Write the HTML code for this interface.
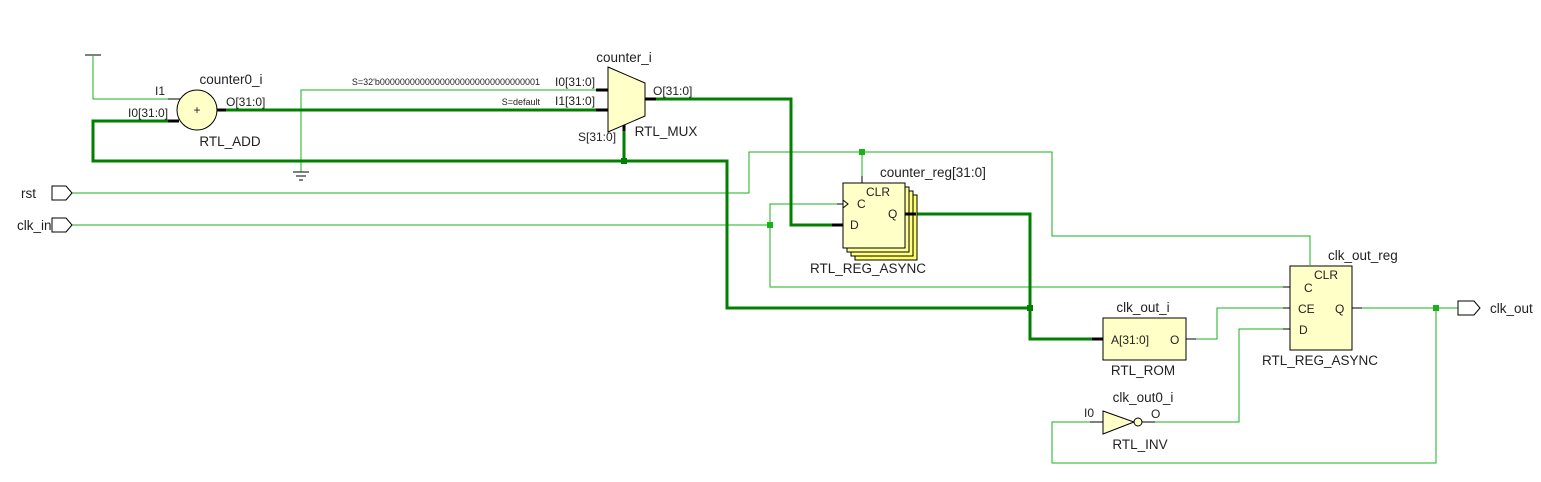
<!DOCTYPE html>
<html><head><meta charset="utf-8"><style>
html,body{margin:0;padding:0;background:#fff;}
svg{display:block;font-family:"Liberation Sans","DejaVu Sans",sans-serif;}
.t{stroke:#19b219;stroke-width:1;fill:none}
.k{stroke:#007f00;stroke-width:3;fill:none}
.p{stroke:#000;stroke-width:1;fill:none}
.pk{stroke:#000;stroke-width:3;fill:none}
text{fill:#222;font-size:12px}
.n{font-size:13.5px}
.s{font-size:9px}
</style></head><body>
<svg width="1541" height="482" viewBox="0 0 1541 482" xmlns="http://www.w3.org/2000/svg">
<!-- thin nets -->
<polyline class="t" points="93,56 93,99 168,99"/>
<polyline class="t" points="301,172 301,90 600,90"/>
<polyline class="t" points="72,193 749,193 749,152 1052,152 1052,236 1310,236 1310,265"/>
<line class="t" x1="862" y1="152" x2="862" y2="176"/>
<polyline class="t" points="72,225 770,225"/>
<polyline class="t" points="837,204 770,204 770,287 1285,287"/>
<polyline class="t" points="1195,339 1217,339 1217,308 1283,308"/>
<polyline class="t" points="1358,308 1458,308"/>
<polyline class="t" points="1436,308 1436,463 1052,463 1052,422 1090,422"/>
<polyline class="t" points="1150,422 1239,422 1239,329 1283,329"/>
<!-- thick nets -->
<polyline class="k" points="178,121 93,121 93,161 727,161 727,308 1030,308"/>
<line class="k" x1="624" y1="161" x2="624" y2="128"/>
<line class="k" x1="217" y1="110" x2="600" y2="110"/>
<polyline class="k" points="655,99 791,99 791,225 837,225"/>
<polyline class="k" points="912,214 1030,214 1030,339 1093,339"/>
<!-- junctions -->
<rect x="621" y="158" width="6" height="6" fill="#007f00"/>
<rect x="1027" y="305" width="6" height="6" fill="#007f00"/>
<rect x="859" y="149" width="6" height="6" fill="#19b219"/>
<rect x="767" y="222" width="6" height="6" fill="#19b219"/>
<rect x="1433" y="305" width="6" height="6" fill="#19b219"/>
<!-- VCC -->
<line class="p" x1="85" y1="55" x2="101" y2="55"/>
<!-- GND -->
<line class="p" x1="293" y1="172" x2="309" y2="172"/>
<line class="p" x1="296" y1="176" x2="306" y2="176"/>
<line class="p" x1="299" y1="180" x2="303" y2="180"/>
<!-- adder -->
<line class="p" x1="168" y1="99" x2="180" y2="99"/>
<line class="pk" x1="168" y1="121" x2="179" y2="121"/>
<line class="pk" x1="216" y1="110" x2="226" y2="110"/>
<circle cx="197" cy="110" r="20" fill="#ffffc8" stroke="#000"/>
<text x="197" y="114" text-anchor="middle" font-size="11">+</text>
<text class="n" x="231" y="84" text-anchor="middle">counter0_i</text>
<text x="155" y="95">I1</text>
<text x="128" y="117">I0[31:0]</text>
<text x="226" y="106">O[31:0]</text>
<text class="n" x="230" y="146" text-anchor="middle">RTL_ADD</text>
<!-- mux -->
<line class="pk" x1="596" y1="90" x2="608" y2="90"/>
<line class="pk" x1="596" y1="110" x2="608" y2="110"/>
<line class="pk" x1="645" y1="99" x2="656" y2="99"/>
<line class="pk" x1="624" y1="123" x2="624" y2="131"/>
<polygon points="608,67 645,83 645,116 608,132" fill="#ffffc8" stroke="#000"/>
<text class="n" x="624" y="62" text-anchor="middle">counter_i</text>
<text class="s" x="540" y="85" text-anchor="end">S=32'b00000000000000000000000000000001</text>
<text class="s" x="540" y="105" text-anchor="end">S=default</text>
<text x="555" y="86">I0[31:0]</text>
<text x="555" y="105">I1[31:0]</text>
<text x="653" y="95">O[31:0]</text>
<text x="578" y="141">S[31:0]</text>
<text class="n" x="666" y="136" text-anchor="middle">RTL_MUX</text>
<!-- ports -->
<polygon points="52,186 66,186 72,193 66,200 52,200" fill="#fff" stroke="#000"/>
<text class="n" x="21" y="198">rst</text>
<polygon points="52,218 66,218 72,225 66,232 52,232" fill="#fff" stroke="#000"/>
<text class="n" x="17" y="230">clk_in</text>
<polygon points="1458,301 1474,301 1480,308 1474,315 1458,315" fill="#fff" stroke="#000"/>
<text class="n" x="1490" y="313">clk_out</text>
<!-- counter_reg -->
<rect x="855" y="195" width="62" height="65" fill="#ffff66" stroke="#000"/>
<rect x="851" y="191" width="62" height="65" fill="#ffff80" stroke="#000"/>
<rect x="847" y="187" width="62" height="65" fill="#ffff99" stroke="#000"/>
<rect x="843" y="183" width="62" height="65" fill="#ffffc8" stroke="#000"/>
<line class="p" x1="837" y1="204" x2="843" y2="204"/>
<polyline class="p" points="843,200 848,204 843,208"/>
<line class="pk" x1="832" y1="225" x2="843" y2="225"/>
<line class="pk" x1="905" y1="214" x2="916" y2="214"/>
<line class="p" x1="862" y1="176" x2="862" y2="183"/>
<text class="n" x="880" y="177">counter_reg[31:0]</text>
<text x="866" y="196">CLR</text>
<text x="857" y="208">C</text>
<text x="850" y="229">D</text>
<text x="888" y="218">Q</text>
<text class="n" x="868" y="273" text-anchor="middle">RTL_REG_ASYNC</text>
<!-- ROM -->
<line class="pk" x1="1092" y1="339" x2="1103" y2="339"/>
<line class="p" x1="1186" y1="339" x2="1196" y2="339"/>
<rect x="1103" y="318" width="83" height="42" fill="#ffffc8" stroke="#000"/>
<text class="n" x="1143" y="312" text-anchor="middle">clk_out_i</text>
<text x="1111" y="344">A[31:0]</text>
<text x="1170" y="344">O</text>
<text class="n" x="1143" y="375" text-anchor="middle">RTL_ROM</text>
<!-- clk_out_reg -->
<line class="p" x1="1283" y1="287" x2="1290" y2="287"/>
<polyline class="p" points="1290,283 1296,287 1290,291"/>
<line class="p" x1="1283" y1="308" x2="1290" y2="308"/>
<line class="p" x1="1283" y1="329" x2="1290" y2="329"/>
<line class="p" x1="1352" y1="308" x2="1362" y2="308"/>
<rect x="1290" y="266" width="62" height="84" fill="#ffffc8" stroke="#000"/>
<text class="n" x="1328" y="260">clk_out_reg</text>
<text x="1314" y="279">CLR</text>
<text x="1304" y="292">C</text>
<text x="1298" y="313">CE</text>
<text x="1299" y="334">D</text>
<text x="1335" y="313">Q</text>
<text class="n" x="1320" y="365" text-anchor="middle">RTL_REG_ASYNC</text>
<!-- inverter -->
<line class="p" x1="1090" y1="422" x2="1103" y2="422"/>
<line class="p" x1="1142" y1="422" x2="1155" y2="422"/>
<polygon points="1103,411 1134,422 1103,434" fill="#ffffc8" stroke="#000"/>
<circle cx="1138" cy="422" r="4" fill="#ffffc8" stroke="#000"/>
<text class="n" x="1143" y="402" text-anchor="middle">clk_out0_i</text>
<text x="1084" y="417">I0</text>
<text x="1151" y="418">O</text>
<text class="n" x="1140" y="449" text-anchor="middle">RTL_INV</text>
</svg>
</body></html>
